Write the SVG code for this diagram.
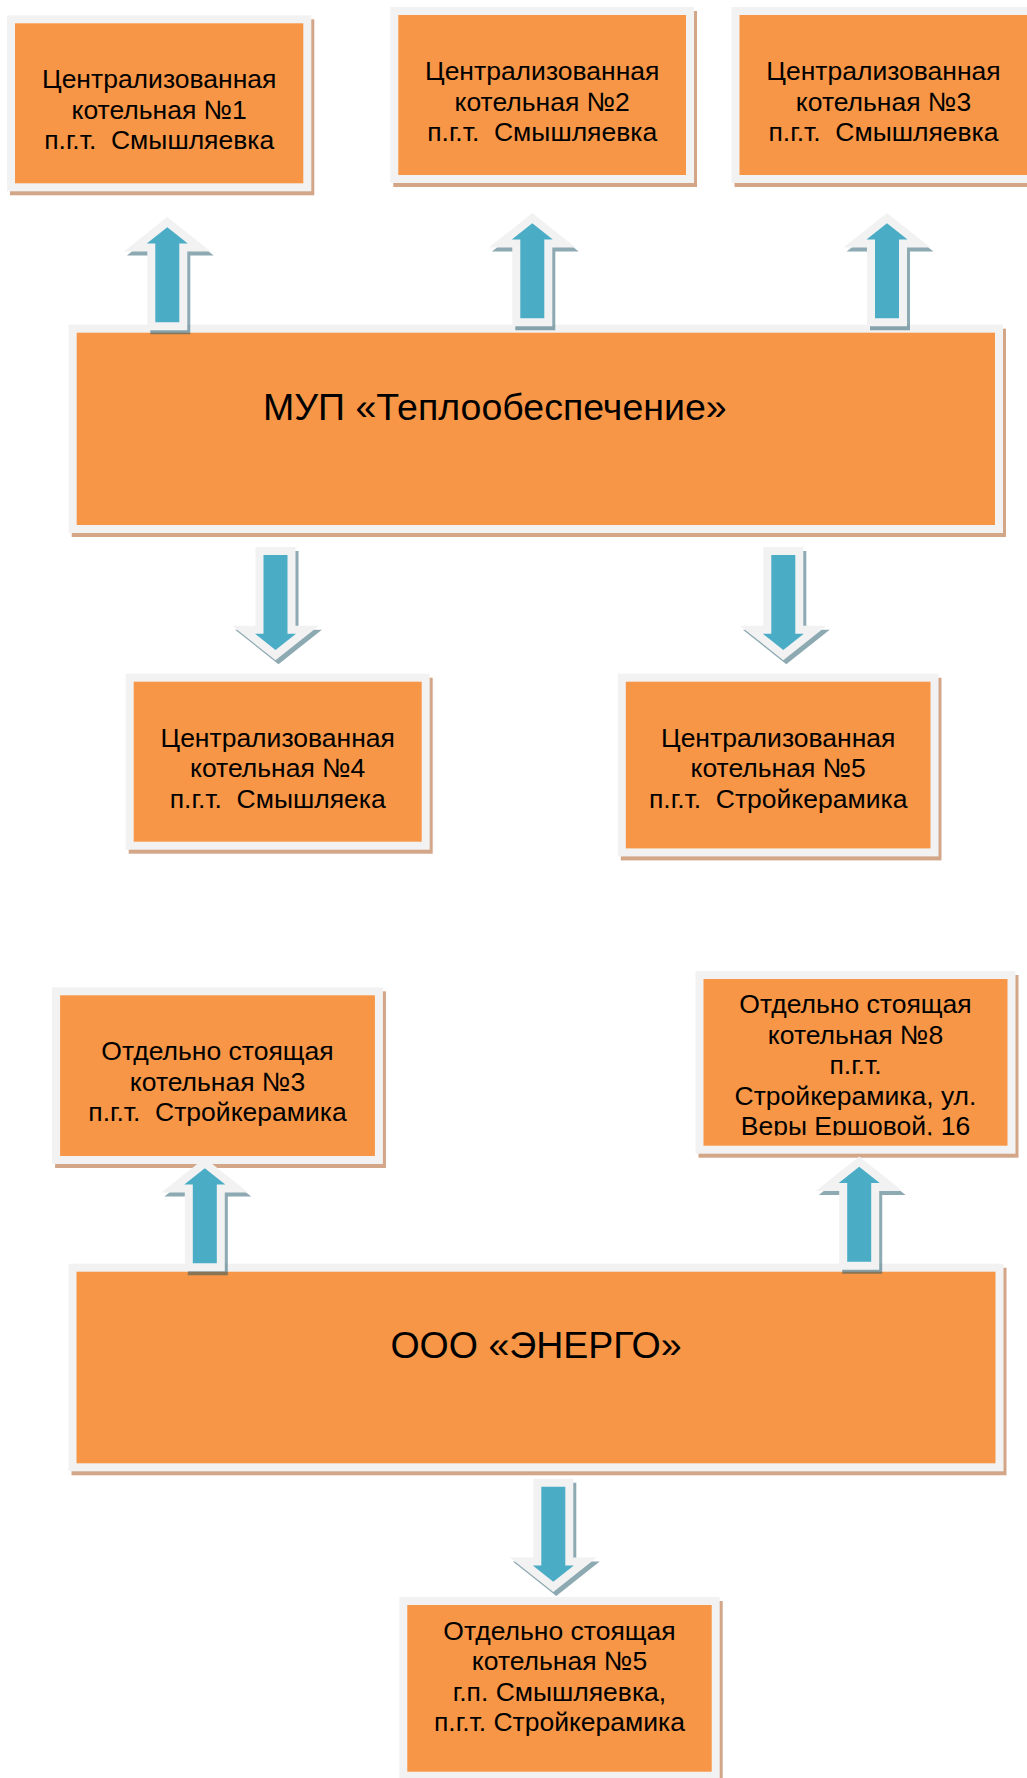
<svg xmlns="http://www.w3.org/2000/svg" xmlns:xlink="http://www.w3.org/1999/xlink" width="1027" height="1778" viewBox="0 0 1027 1778">
<style>
.sh{fill:#d3a688}
.fr{fill:#f2f2f2}
.or{fill:#f79646}
.t{font-family:"Liberation Sans",Arial,sans-serif;font-size:26.5px;fill:#000;text-anchor:middle}
.tt{font-family:"Liberation Sans",Arial,sans-serif;font-size:37.5px;fill:#000}
.aw{fill:#4bacc6;stroke:#f2f2f2;stroke-width:16;stroke-linejoin:miter;stroke-miterlimit:4;paint-order:stroke}
.ash{fill:#1d5567;stroke:#1d5567;stroke-width:16;stroke-linejoin:miter;stroke-miterlimit:4;opacity:.5}
</style>
<defs>
<path id="au" d="M0,0 L20.5,16.3 L12,16.3 L12,95 L-12,95 L-12,16.3 L-20.5,16.3 Z"/>
<path id="ad" d="M0,0 L20.5,-16.3 L12,-16.3 L12,-95 L-12,-95 L-12,-16.3 L-20.5,-16.3 Z"/>
<clipPath id="c7"><rect x="700" y="975" width="320" height="160.5"/></clipPath>
</defs>
<rect width="1027" height="1778" fill="#fff"/>

<g id="n1">
<rect class="sh" x="10" y="19.3" width="304.3" height="176"/>
<rect class="fr" x="7" y="15.3" width="304.3" height="176"/>
<rect class="or" x="15" y="23.3" width="288.3" height="160"/>
<text class="t"><tspan x="159.2" y="88.3">Централизованная</tspan><tspan x="159.2" y="118.8">котельная №1</tspan><tspan x="159.2" y="149.3">п.г.т.&#160; Смышляевка</tspan></text>
</g>
<g id="n2">
<rect class="sh" x="393.3" y="11" width="303.7" height="176"/>
<rect class="fr" x="390.3" y="7" width="303.7" height="176"/>
<rect class="or" x="398.3" y="15" width="287.7" height="160"/>
<text class="t"><tspan x="542.2" y="80">Централизованная</tspan><tspan x="542.2" y="110.5">котельная №2</tspan><tspan x="542.2" y="141">п.г.т.&#160; Смышляевка</tspan></text>
</g>
<g id="n3">
<rect class="sh" x="734.5" y="11" width="304" height="176"/>
<rect class="fr" x="731.5" y="7" width="304" height="176"/>
<rect class="or" x="739.5" y="15" width="288" height="160"/>
<text class="t"><tspan x="883.5" y="80">Централизованная</tspan><tspan x="883.5" y="110.5">котельная №3</tspan><tspan x="883.5" y="141">п.г.т.&#160; Смышляевка</tspan></text>
</g>
<g id="mup">
<rect class="sh" x="71.7" y="328.7" width="934.3" height="208.3"/>
<rect class="fr" x="68.7" y="324.7" width="934.3" height="208.3"/>
<rect class="or" x="76.7" y="332.7" width="918.3" height="192.3"/>
<text class="tt" x="263" y="420">МУП «Теплообеспечение»</text>
</g>
<g id="n4">
<rect class="sh" x="128.7" y="677.7" width="304" height="176"/>
<rect class="fr" x="125.7" y="673.7" width="304" height="176"/>
<rect class="or" x="133.7" y="681.7" width="288" height="160"/>
<text class="t"><tspan x="277.7" y="746.7">Централизованная</tspan><tspan x="277.7" y="777">котельная №4</tspan><tspan x="277.7" y="807.5">п.г.т.&#160; Смышляека</tspan></text>
</g>
<g id="n5">
<rect class="sh" x="620.8" y="677.7" width="320.7" height="182.7"/>
<rect class="fr" x="617.8" y="673.7" width="320.7" height="182.7"/>
<rect class="or" x="625.8" y="681.7" width="304.7" height="166.7"/>
<text class="t"><tspan x="778.2" y="746.7">Централизованная</tspan><tspan x="778.2" y="777">котельная №5</tspan><tspan x="778.2" y="807.5">п.г.т.&#160; Стройкерамика</tspan></text>
</g>
<g id="n6">
<rect class="sh" x="55.1" y="991.3" width="330.8" height="176.7"/>
<rect class="fr" x="52.1" y="987.3" width="330.8" height="176.7"/>
<rect class="or" x="60.1" y="995.3" width="314.8" height="160.7"/>
<text class="t"><tspan x="217.5" y="1060">Отдельно стоящая</tspan><tspan x="217.5" y="1090.5">котельная №3</tspan><tspan x="217.5" y="1121">п.г.т.&#160; Стройкерамика</tspan></text>
</g>
<g id="n7">
<rect class="sh" x="698.5" y="975" width="320" height="182.7"/>
<rect class="fr" x="695.5" y="971" width="320" height="182.7"/>
<rect class="or" x="703.5" y="979" width="304" height="166.7"/>
<text class="t" clip-path="url(#c7)"><tspan x="855.5" y="1013.3">Отдельно стоящая</tspan><tspan x="855.5" y="1043.8">котельная №8</tspan><tspan x="855.5" y="1074.2">п.г.т.</tspan><tspan x="855.5" y="1104.6">Стройкерамика, ул.</tspan><tspan x="855.5" y="1135">Веры Ершовой, 16</tspan></text>
</g>
<g id="energo">
<rect class="sh" x="71.5" y="1267.7" width="935" height="207.6"/>
<rect class="fr" x="68.5" y="1263.7" width="935" height="207.6"/>
<rect class="or" x="76.5" y="1271.7" width="919" height="191.6"/>
<text class="tt" x="536" y="1358" text-anchor="middle">ООО «ЭНЕРГО»</text>
</g>
<g id="n8">
<rect class="sh" x="402.3" y="1601" width="320.4" height="182.7"/>
<rect class="fr" x="399.3" y="1597" width="320.4" height="182.7"/>
<rect class="or" x="407.3" y="1605" width="304.4" height="166.7"/>
<text class="t"><tspan x="559.5" y="1640">Отдельно стоящая</tspan><tspan x="559.5" y="1670.3">котельная №5</tspan><tspan x="559.5" y="1700.6">г.п. Смышляевка,</tspan><tspan x="559.5" y="1731">п.г.т. Стройкерамика</tspan></text>
</g>

<g id="connectors">
<use href="#au" class="ash" x="170.3" y="231.3"/>
<use href="#au" class="aw" x="167.3" y="227.3"/>
<use href="#au" class="ash" x="535.3" y="227.3"/>
<use href="#au" class="aw" x="532.3" y="223.3"/>
<use href="#au" class="ash" x="890" y="227.3"/>
<use href="#au" class="aw" x="887" y="223.3"/>
<use href="#ad" class="ash" x="278.5" y="654"/>
<use href="#ad" class="aw" x="275.5" y="650"/>
<use href="#ad" class="ash" x="786.3" y="654"/>
<use href="#ad" class="aw" x="783.3" y="650"/>
<use href="#au" class="ash" x="207.8" y="1172.3"/>
<use href="#au" class="aw" x="204.8" y="1168.3"/>
<use href="#au" class="ash" x="862.2" y="1170.7"/>
<use href="#au" class="aw" x="859.2" y="1166.7"/>
<use href="#ad" class="ash" x="556.3" y="1585.7"/>
<use href="#ad" class="aw" x="553.3" y="1581.7"/>
</g>
</svg>
